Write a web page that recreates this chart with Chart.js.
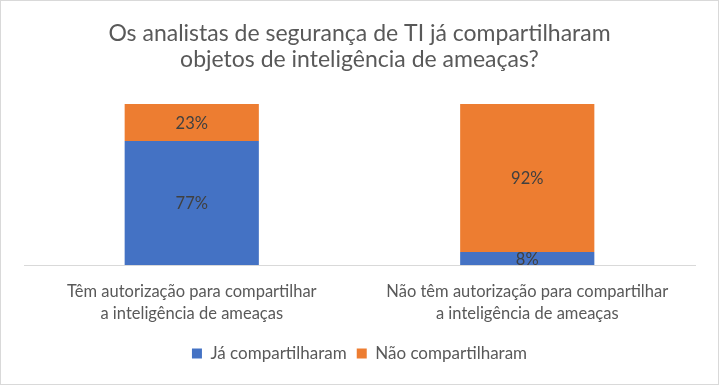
<!DOCTYPE html>
<html>
<head>
<meta charset="utf-8">
<script src="https://cdn.jsdelivr.net/npm/chart.js@4.4.1/dist/chart.umd.min.js"></script>
<style>
  html, body { margin: 0; padding: 0; background: #fff; }
  #wrap { width: 719px; height: 385px; box-sizing: border-box; border: 1px solid #d9d9d9; }
</style>
</head>
<body>
<div id="wrap"><canvas id="chart" width="717" height="383"></canvas></div>
<script>
// categories and series (percent)
const categories = [
    ['Têm autorização para compartilhar', 'a inteligência de ameaças'],
    ['Não têm autorização para compartilhar', 'a inteligência de ameaças']
];
const jaCompartilharam = [77, 8];
const naoCompartilharam = [23, 92];
const titleLines = ['Os analistas de segurança de TI já compartilharam', 'objetos de inteligência de ameaças?'];

const fontFamily = 'Lato, "Open Sans", sans-serif';

// draw the percent in the middle of each bar segment
const barLabels = {
    id: 'barLabels',
    afterDatasetsDraw(chart) {
        const ctx = chart.ctx;
        ctx.save();
        ctx.font = '16.5px ' + fontFamily;
        ctx.fillStyle = '#404040';
        ctx.textAlign = 'center';
        ctx.textBaseline = 'middle';
        chart.data.datasets.forEach((ds, i) => {
            chart.getDatasetMeta(i).data.forEach((bar, j) => {
                const y = (bar.y + bar.base) / 2;
                ctx.fillText(ds.data[j] + '%', bar.x, y + 1);
            });
        });
        ctx.restore();
    }
};

new Chart(document.getElementById('chart').getContext('2d'), {
    type: 'bar',
    data: {
        labels: categories,
        datasets: [{
            label: 'Já compartilharam',
            data: jaCompartilharam,
            backgroundColor: '#4472C4',
            barPercentage: 0.4,
            categoryPercentage: 1
        }, {
            label: 'Não compartilharam',
            data: naoCompartilharam,
            backgroundColor: '#ED7D31',
            barPercentage: 0.4,
            categoryPercentage: 1
        }]
    },
    options: {
        responsive: false,
        animation: false,
        layout: { padding: { left: 23, right: 23, top: 0, bottom: 12 } },
        plugins: {
            title: {
                display: true,
                text: titleLines,
                color: '#595959',
                font: { family: fontFamily, size: 23, weight: 'normal', lineHeight: 1.13 },
                padding: { top: 20, bottom: 31 }
            },
            legend: {
                position: 'bottom',
                labels: {
                    color: '#595959',
                    font: { family: fontFamily, size: 17 },
                    boxWidth: 10,
                    boxHeight: 10,
                    padding: 10
                }
            },
            tooltip: { enabled: false }
        },
        scales: {
            x: {
                stacked: true,
                grid: { display: false, drawTicks: false },
                border: { color: '#d9d9d9', width: 1 },
                ticks: {
                    color: '#595959',
                    font: { family: fontFamily, size: 16.5, lineHeight: 1.33 },
                    padding: 16,
                    maxRotation: 0
                },
                afterFit(scale) {
                    scale.height = 70;
                }
            },
            y: {
                stacked: true,
                display: false,
                min: 0,
                max: 100
            }
        }
    },
    plugins: [barLabels]
});
</script>
</body>
</html>
